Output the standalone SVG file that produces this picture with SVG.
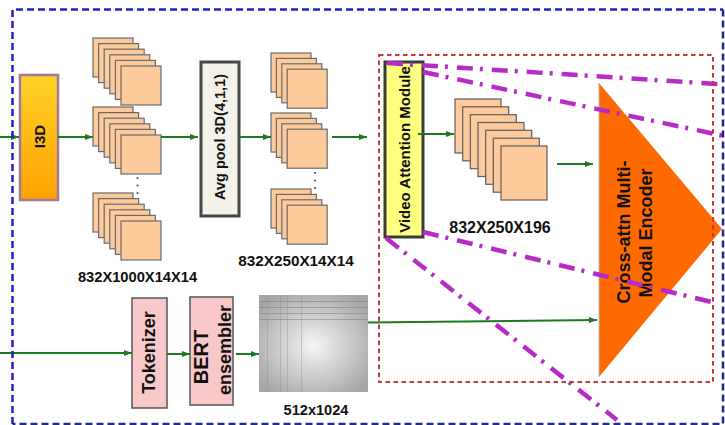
<svg xmlns="http://www.w3.org/2000/svg" width="725" height="425" viewBox="0 0 725 425">
  <defs>
    <style>
      text { font-family: "Liberation Sans", Arial, sans-serif; font-weight: bold; fill: #111; }
      .fm rect { fill: #fdca9b; stroke: #6b6b6b; stroke-width: 1.2; }
      .tall rect { fill: #fdca9b; stroke: #5e5e5e; stroke-width: 1.2; }
      .flow { stroke: #1f7a1f; stroke-width: 2; fill: none; marker-end: url(#ah); }
      .attn { stroke: #b72bc6; stroke-width: 4.5; fill: none; stroke-dasharray: 16 7 3 9; }
      .dot { fill: #555; }
      .pink { fill: #f9c9c9; stroke: #555; stroke-width: 1.5; }
      .dim { text-anchor: middle; }
    </style>
    <marker id="ah" viewBox="0 0 8 6" refX="8" refY="3" markerWidth="8" markerHeight="6" markerUnits="userSpaceOnUse" orient="auto">
      <path d="M0,0 L8,3 L0,6 z" fill="#1f7a1f"/>
    </marker>
    <linearGradient id="i3dFill" x1="0" y1="0" x2="0" y2="1">
      <stop offset="0" stop-color="#ffd22a"/>
      <stop offset="1" stop-color="#ffa200"/>
    </linearGradient>
    <radialGradient id="embFill" cx="0.5" cy="0.52" r="0.62">
      <stop offset="0" stop-color="#f5f5f5"/>
      <stop offset="1" stop-color="#a6a6a6"/>
    </radialGradient>
  </defs>

  <!-- I3D backbone -->
  <g id="i3d">
    <rect x="20" y="75" width="38" height="125" fill="url(#i3dFill)" stroke="#a07a9a" stroke-width="2.5"/>
    <text transform="translate(44.5,136.5) rotate(-90)" text-anchor="middle" font-size="15">I3D</text>
  </g>

  <!-- I3D feature maps: three stacks of six -->
  <g id="features-i3d">
    <g class="fm">
      <rect x="93" y="38" width="40" height="39"/><rect x="98.6" y="43.6" width="40" height="39"/>
      <rect x="104.2" y="49.2" width="40" height="39"/><rect x="109.8" y="54.8" width="40" height="39"/>
      <rect x="115.4" y="60.4" width="40" height="39"/><rect x="121" y="66" width="40" height="39"/>
    </g>
    <g class="fm">
      <rect x="93" y="107" width="40" height="39"/><rect x="98.6" y="112.6" width="40" height="39"/>
      <rect x="104.2" y="118.2" width="40" height="39"/><rect x="109.8" y="123.8" width="40" height="39"/>
      <rect x="115.4" y="129.4" width="40" height="39"/><rect x="121" y="135" width="40" height="39"/>
    </g>
    <circle class="dot" cx="137.5" cy="178" r="1.1"/>
    <circle class="dot" cx="137.5" cy="185.5" r="1.1"/>
    <circle class="dot" cx="137.5" cy="193" r="1.1"/>
    <g class="fm">
      <rect x="93" y="193" width="40" height="39"/><rect x="98.6" y="198.6" width="40" height="39"/>
      <rect x="104.2" y="204.2" width="40" height="39"/><rect x="109.8" y="209.8" width="40" height="39"/>
      <rect x="115.4" y="215.4" width="40" height="39"/><rect x="121" y="221" width="40" height="39"/>
    </g>
    <text class="dim" x="137.5" y="282" font-size="14.7">832X1000X14X14</text>
  </g>

  <!-- Temporal pooling -->
  <g id="avg-pool">
    <rect x="201" y="62" width="38" height="154" fill="#f4f1e8" stroke="#474747" stroke-width="3"/>
    <text transform="translate(225,137) rotate(-90)" text-anchor="middle" font-size="14.5">Avg pool 3D(4,1,1)</text>
  </g>

  <!-- Pooled feature maps: three stacks of four -->
  <g id="features-pooled">
    <g class="fm">
      <rect x="271" y="53" width="40" height="39"/><rect x="276.4" y="58.4" width="40" height="39"/>
      <rect x="281.8" y="63.8" width="40" height="39"/><rect x="287.2" y="69.2" width="40" height="39"/>
    </g>
    <g class="fm">
      <rect x="271" y="113" width="40" height="39"/><rect x="276.4" y="118.4" width="40" height="39"/>
      <rect x="281.8" y="123.8" width="40" height="39"/><rect x="287.2" y="129.2" width="40" height="39"/>
    </g>
    <circle class="dot" cx="315" cy="173" r="1.1"/>
    <circle class="dot" cx="315" cy="180.5" r="1.1"/>
    <circle class="dot" cx="315" cy="188" r="1.1"/>
    <g class="fm">
      <rect x="271" y="189" width="40" height="39"/><rect x="276.4" y="194.4" width="40" height="39"/>
      <rect x="281.8" y="199.8" width="40" height="39"/><rect x="287.2" y="205.2" width="40" height="39"/>
    </g>
    <text class="dim" x="296" y="266" font-size="15.3">832X250X14X14</text>
  </g>

  <!-- Video attention -->
  <g id="video-attention">
    <rect x="385" y="62" width="38" height="175" fill="#ffff80" stroke="#3a3a3a" stroke-width="3"/>
    <text transform="translate(409.5,149.5) rotate(-90)" text-anchor="middle" font-size="15">Video Attention Module</text>
  </g>

  <!-- Attended video tokens -->
  <g id="features-attended" class="tall">
    <rect x="455" y="99" width="46" height="54"/><rect x="462.7" y="106.8" width="46" height="54"/>
    <rect x="470.3" y="114.7" width="46" height="54"/><rect x="478" y="122.5" width="46" height="54"/>
    <rect x="485.7" y="130.3" width="46" height="54"/><rect x="493.3" y="138.2" width="46" height="54"/>
    <rect x="501" y="146" width="46" height="54"/>
    <text class="dim" x="500" y="233" font-size="16">832X250X196</text>
  </g>

  <!-- Text branch -->
  <g id="tokenizer">
    <rect class="pink" x="132" y="298" width="35" height="110"/>
    <text transform="translate(155,352.5) rotate(-90)" text-anchor="middle" font-size="18">Tokenizer</text>
  </g>
  <g id="bert">
    <rect class="pink" x="190" y="297" width="43" height="108"/>
    <text transform="translate(207.5,357) rotate(-90)" text-anchor="middle" font-size="20">BERT</text>
    <text transform="translate(231,350) rotate(-90)" text-anchor="middle" font-size="18">ensembler</text>
  </g>
  <g id="text-embedding">
    <rect x="259" y="295" width="109" height="97" fill="url(#embFill)"/>
    <g stroke="#7f7f7f" stroke-width="1" opacity="0.55">
      <path d="M259,301.5 H368 M259,307.5 H368 M259,313.5 H368 M259,319.5 H368"/>
    </g>
    <g stroke="#8a8a8a" stroke-width="1" opacity="0.35">
      <path d="M267.5,295 V392 M280.5,295 V392 M287.5,295 V392 M301.5,295 V392"/>
    </g>
    <text class="dim" x="316" y="415" font-size="14.6">512x1024</text>
  </g>

  <!-- Multi-modal encoder -->
  <g id="encoder">
    <polygon points="599,83 722,229 599,377" fill="#ff6a00"/>
    <line x1="599" y1="83" x2="599" y2="377" stroke="#b5b5b5" stroke-width="1"/>
    <text transform="translate(630,232) rotate(-90)" text-anchor="middle" font-size="18">Cross-attn Multi-</text>
    <text transform="translate(652,233) rotate(-90)" text-anchor="middle" font-size="18">Modal Encoder</text>
  </g>

  <!-- Data flow -->
  <g id="connectors">
    <path class="flow" d="M0,137 H19"/>
    <path class="flow" d="M58,137 H93"/>
    <path class="flow" d="M161,137 H198"/>
    <path class="flow" d="M239,137 H271"/>
    <path class="flow" d="M332,137 H367"/>
    <path class="flow" d="M418,134 H454"/>
    <path class="flow" d="M557,164 H593"/>
    <path class="flow" d="M0,353 H132"/>
    <path class="flow" d="M167,354 H190"/>
    <path class="flow" d="M236,354 H259"/>
    <path class="flow" d="M368,322.5 L597,320" stroke-width="2.5"/>
  </g>

  <!-- Attention projection lines -->
  <g id="attention-links">
    <path class="attn" d="M387,63 L718,84"/>
    <path class="attn" d="M423,72 L722,135.5"/>
    <path class="attn" d="M386,238 L617,420"/>
    <path class="attn" d="M423,232 L716,303"/>
  </g>

  <!-- Module boundaries -->
  <g id="frames" fill="none">
    <rect x="379" y="55" width="334" height="327" stroke="#c23b3b" stroke-width="2" stroke-dasharray="4.5 3.5"/>
    <path d="M12.5,424 V9.5 H723" stroke="#2020c8" stroke-width="2.5" stroke-dasharray="7 4"/>
    <path d="M723,9.5 V424 H12.5" stroke="#1f2a8a" stroke-width="2.5" stroke-dasharray="7 4"/>
  </g>
</svg>
